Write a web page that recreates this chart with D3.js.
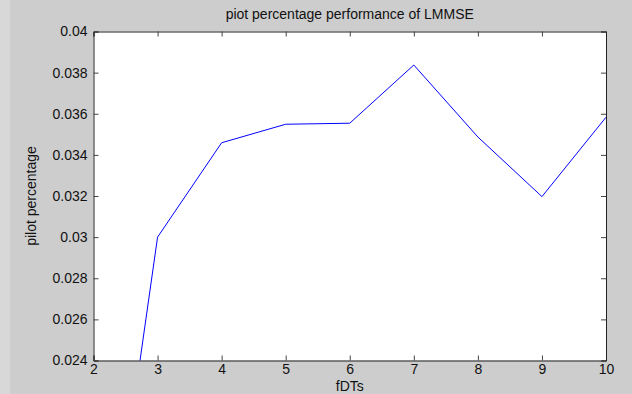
<!DOCTYPE html>
<html>
<head>
<meta charset="utf-8">
<script src="https://cdn.jsdelivr.net/npm/d3@7"></script>
<style>
  body { margin: 0; background: #cdcdcd; }
  text { font-family: "Liberation Sans", Arial, sans-serif; fill: #111; }
</style>
</head>
<body>
<div id="chart"></div>
<script>
// values
var fdts = [2, 3, 4, 5, 6, 7, 8, 9, 10];
var pilotPct = [0.0081, 0.0300, 0.03459, 0.03549, 0.03554, 0.03837, 0.03487, 0.03197, 0.03583];
var xTicks = [2, 3, 4, 5, 6, 7, 8, 9, 10];
var yTicks = [0.024, 0.026, 0.028, 0.03, 0.032, 0.034, 0.036, 0.038, 0.04];

var W = 632, H = 394;
var margin = { top: 31.5, right: 26, bottom: 33.5, left: 93.5 },
  width = W - margin.left - margin.right,
  height = H - margin.top - margin.bottom;

var svg = d3.select("#chart").append("svg")
  .attr("width", W)
  .attr("height", H);

svg.append("rect").attr("width", W).attr("height", H).attr("fill", "#cdcdcd");
svg.append("rect").attr("width", 10).attr("height", H).attr("fill", "#d8d8d8");

var g = svg.append("g")
  .attr("transform", "translate(" + margin.left + "," + margin.top + ")");

var x = d3.scaleLinear().domain([2, 10]).range([0, width]);
var y = d3.scaleLinear().domain([0.024, 0.04]).range([height, 0]);

g.append("rect")
  .attr("width", width)
  .attr("height", height)
  .attr("fill", "#fff");

g.append("clipPath").attr("id", "clip")
  .append("rect").attr("width", width).attr("height", height);

var line = d3.line()
  .x(function (d, i) { return x(fdts[i]); })
  .y(function (d) { return y(d); });

g.append("path")
  .datum(pilotPct)
  .attr("clip-path", "url(#clip)")
  .attr("fill", "none")
  .attr("stroke", "#0000ff")
  .attr("stroke-width", 1)
  .attr("d", line);

// axes with inward ticks, MATLAB style
var xAxis = d3.axisBottom(x).tickValues(xTicks).tickSize(-5).tickPadding(4).tickFormat(d3.format("d"));
var xTop = d3.axisTop(x).tickValues(xTicks).tickSize(-5).tickFormat("");
var yAxis = d3.axisLeft(y).tickValues(yTicks).tickSize(-5).tickPadding(6).tickFormat(function (d) { return +d.toFixed(3); });
var yRight = d3.axisRight(y).tickValues(yTicks).tickSize(-5).tickFormat("");

g.append("g").attr("class", "axis").attr("transform", "translate(0," + height + ")").call(xAxis);
g.append("g").attr("class", "axis").call(xTop);
g.append("g").attr("class", "axis").call(yAxis);
g.append("g").attr("class", "axis").attr("transform", "translate(" + width + ",0)").call(yRight);

g.selectAll(".axis path").attr("stroke", "#222");
g.selectAll(".axis line").attr("stroke", "#444");
g.selectAll(".axis text").attr("font-size", "14px").attr("fill", "#111")
  .attr("font-family", "'Liberation Sans', Arial, sans-serif");

g.append("text")
  .attr("x", width / 2)
  .attr("y", -13)
  .attr("text-anchor", "middle")
  .attr("font-size", "14px")
  .text("piot percentage performance of LMMSE");

g.append("text")
  .attr("x", width / 2)
  .attr("y", height + 30)
  .attr("text-anchor", "middle")
  .attr("font-size", "14px")
  .text("fDTs");

g.append("text")
  .attr("transform", "translate(-58," + (height / 2) + ") rotate(-90)")
  .attr("text-anchor", "middle")
  .attr("font-size", "14px")
  .text("pilot percentage");
</script>
</body>
</html>
